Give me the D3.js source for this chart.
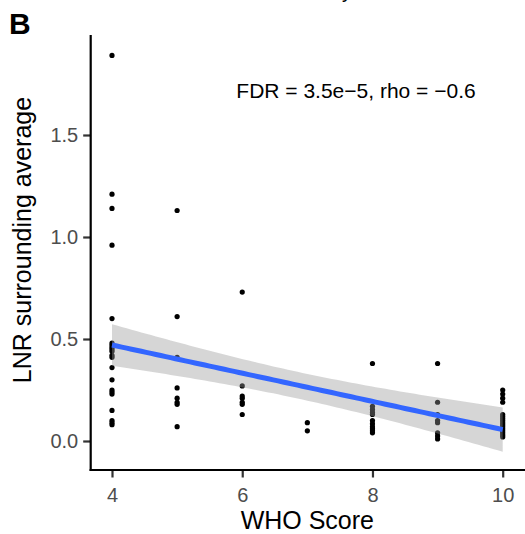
<!DOCTYPE html>
<html>
<head>
<meta charset="utf-8">
<script src="https://cdn.jsdelivr.net/npm/d3@7"></script>
<style>
  html, body { margin: 0; padding: 0; background: #fff; }
  svg { display: block; font-family: "Liberation Sans", Arial, Helvetica, sans-serif; }
</style>
</head>
<body>
<svg id="chart" width="525" height="534"></svg>
<script>
// ---- data ----
const whoScores = [4, 5, 6, 7, 8, 9, 10];
const lnrAt4  = [1.89, 1.21, 1.14, 0.96, 0.60, 0.48, 0.47, 0.46, 0.45, 0.44, 0.42, 0.41, 0.36, 0.30, 0.25, 0.24, 0.23, 0.15, 0.10, 0.09, 0.08];
const lnrAt5  = [1.13, 0.61, 0.41, 0.26, 0.21, 0.19, 0.18, 0.07];
const lnrAt6  = [0.73, 0.27, 0.22, 0.21, 0.19, 0.18, 0.13];
const lnrAt7  = [0.09, 0.05];
const lnrAt8  = [0.38, 0.17, 0.155, 0.14, 0.13, 0.10, 0.085, 0.07, 0.06, 0.05, 0.04];
const lnrAt9  = [0.38, 0.19, 0.13, 0.10, 0.09, 0.04, 0.025, 0.01];
const lnrAt10 = [0.25, 0.23, 0.21, 0.19, 0.13, 0.12, 0.11, 0.10, 0.09, 0.08, 0.07, 0.06, 0.05, 0.04, 0.03, 0.02];
const xTicks = [4, 6, 8, 10];
const yTicks = [0.0, 0.5, 1.0, 1.5];
const annotation = "FDR = 3.5e\u22125, rho = \u22120.6";
const xTitle = "WHO Score";
const yTitle = "LNR surrounding average";
const panelTag = "B";

(function () {
const groups = [lnrAt4, lnrAt5, lnrAt6, lnrAt7, lnrAt8, lnrAt9, lnrAt10];
const points = [];
groups.forEach((vals, i) => vals.forEach(v => points.push({x: whoScores[i], y: v})));

// ---- linear fit with 95% confidence band ----
const n = points.length;
const mx = d3.mean(points, d => d.x), my = d3.mean(points, d => d.y);
const sxx = d3.sum(points, d => (d.x - mx) ** 2);
const sxy = d3.sum(points, d => (d.x - mx) * (d.y - my));
const slope = sxy / sxx, intercept = my - slope * mx;
const sse = d3.sum(points, d => (d.y - (intercept + slope * d.x)) ** 2);
const s = Math.sqrt(sse / (n - 2));
const tq = 1.994;
const fit = d3.range(0, 81).map(i => {
  const xv = 4 + i * 6 / 80;
  const yhat = intercept + slope * xv;
  const se = s * Math.sqrt(1 / n + (xv - mx) ** 2 / sxx);
  return {x: xv, y: yhat, lo: yhat - tq * se, hi: yhat + tq * se};
});

// ---- scales ----
const svg = d3.select("#chart");
const x = d3.scaleLinear().domain([4, 10]).range([112, 502.7]);
const y = d3.scaleLinear().domain([0, 1.5]).range([441, 135]);
const pLeft = 90.7, pBottom = 470, pTop = 35, pRight = 525;

// points
svg.append("g").selectAll("circle").data(points).join("circle")
  .attr("cx", d => x(d.x)).attr("cy", d => y(d.y)).attr("r", 2.6).attr("fill", "#000");

// ribbon
svg.append("path").datum(fit)
  .attr("d", d3.area().x(d => x(d.x)).y0(d => y(d.lo)).y1(d => y(d.hi)))
  .attr("fill", "#999999").attr("fill-opacity", 0.4);

// line
svg.append("path").datum(fit)
  .attr("d", d3.line().x(d => x(d.x)).y(d => y(d.y)))
  .attr("fill", "none").attr("stroke", "#3366FF").attr("stroke-width", 5);

// axes
const yAxis = svg.append("g").attr("transform", `translate(${pLeft},0)`)
  .call(d3.axisLeft(y).tickValues(yTicks).tickFormat(d3.format(".1f")).tickSize(7.5).tickPadding(5));
yAxis.select(".domain").remove();
const xAxis = svg.append("g").attr("transform", `translate(0,${pBottom})`)
  .call(d3.axisBottom(x).tickValues(xTicks).tickFormat(d3.format("d")).tickSize(7.5).tickPadding(10));
xAxis.select(".domain").remove();
[yAxis, xAxis].forEach(g => {
  g.selectAll(".tick line").attr("stroke", "#333").attr("stroke-width", 2.2);
  g.selectAll(".tick text").attr("fill", "#4d4d4d").attr("font-size", 20)
    .attr("font-family", "Liberation Sans, Arial, sans-serif");
});
svg.append("line").attr("x1", pLeft).attr("x2", pLeft).attr("y1", pTop).attr("y2", pBottom + 1.1)
  .attr("stroke", "#000").attr("stroke-width", 2.2);
svg.append("line").attr("x1", pLeft - 1.1).attr("x2", pRight).attr("y1", pBottom).attr("y2", pBottom)
  .attr("stroke", "#000").attr("stroke-width", 2.2);

// titles
svg.append("text").attr("x", x(7)).attr("y", 529).attr("text-anchor", "middle")
  .attr("font-size", 25).attr("fill", "#000").text(xTitle);
svg.append("text").attr("transform", `translate(31,240) rotate(-90)`)
  .attr("text-anchor", "middle").attr("font-size", 25).attr("fill", "#000").text(yTitle);
svg.append("text").attr("x", 356).attr("y", 97.5).attr("text-anchor", "middle")
  .attr("font-size", 21).attr("fill", "#000").text(annotation);
svg.append("text").attr("x", 9).attr("y", 34.3).attr("font-size", 30).attr("font-weight", "bold")
  .attr("fill", "#000").text(panelTag);
// clipped remnant of the cut-off title above the panel (as in the reference)
svg.append("text").attr("x", 347).attr("y", -2).attr("text-anchor", "middle")
  .attr("font-size", 20).attr("fill", "#000").text("y");
})();
</script>
</body>
</html>
